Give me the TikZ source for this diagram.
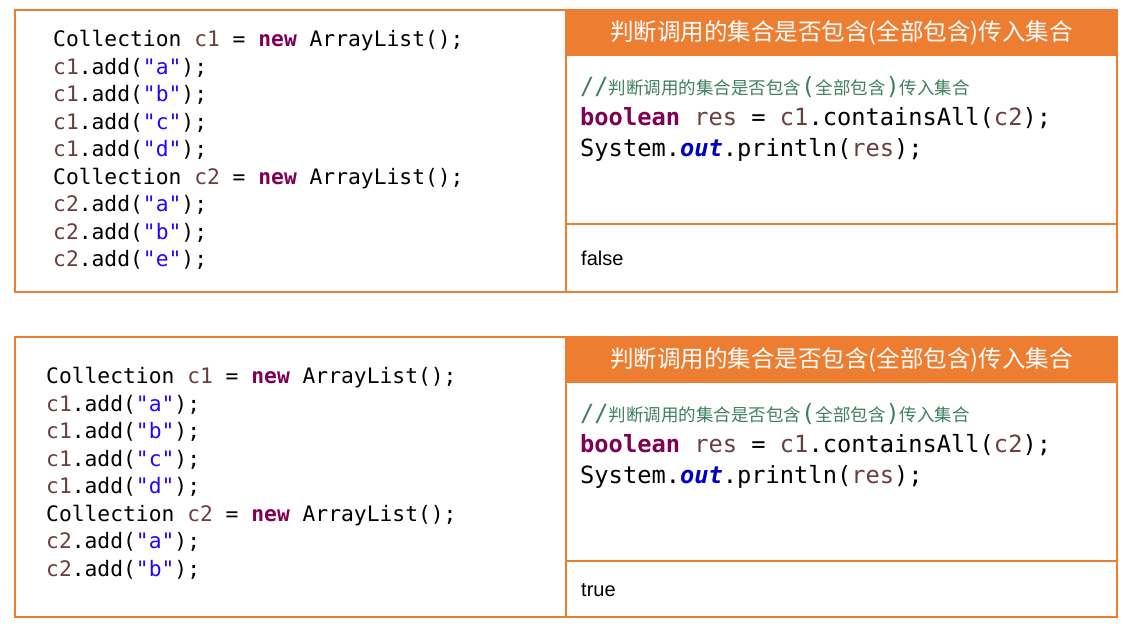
\documentclass[tikz,border=0pt]{standalone}
\usepackage{fontspec}
\setmonofont{DejaVu Sans Mono}
\newfontfamily\cjk{Noto Sans CJK SC}
\setmainfont{Liberation Sans}
\definecolor{org}{HTML}{ED7D31}
\definecolor{kw}{HTML}{7F0055}
\definecolor{vr}{HTML}{6A3E3E}
\definecolor{st}{HTML}{2A00FF}
\definecolor{cm}{HTML}{3F7F5F}
\definecolor{fd}{HTML}{0000C0}
\newcommand{\K}[1]{\textcolor{kw}{\textbf{#1}}}
\newcommand{\V}[1]{\textcolor{vr}{#1}}
\newcommand{\Sx}[1]{\textcolor{st}{#1}}
\newcommand{\C}[1]{{\cjk\fontsize{17.5}{17}\selectfont #1}}
\begin{document}
\begin{tikzpicture}[x=1pt,y=-1pt,
  frame/.style={draw=org,line width=1.5pt},
  hdr/.style={fill=org,draw=org,line width=1.5pt},
  codeL/.style={anchor=north west,align=left,font=\ttfamily\fontsize{21.3}{27.5}\selectfont,inner sep=0},
  codeR/.style={anchor=north west,align=left,font=\ttfamily\fontsize{23.7}{31}\selectfont,inner sep=0}]
\useasboundingbox (0,0) rectangle (1130,627);
\newcommand{\panel}[6]{%
 \fill[hdr] (566,#1) rectangle (1117,#1+45);
 \draw[frame] (15,#1) rectangle (1117,#2) (566,#1) -- (566,#2) (566,#3) -- (1117,#3);
 \node[text=white,font=\cjk\fontsize{23.5}{26}\selectfont] (h#5) at (841.5,#1+22.5) {判断调用的集合是否包含(全部包含)传入集合};
 \node[codeR] (r#5) at (580,#1+66) {\textcolor{cm}{//\C{判断调用的集合是否包含}(\C{全部包含})\C{传入集合}}\\
 \K{boolean} \V{res} = \V{c1}.containsAll(\V{c2});\\
 System.\textcolor{fd}{\textbf{\textit{out}}}.println(\V{res});};
 \node[anchor=west,font=\fontsize{20}{24}\selectfont,inner sep=0] (o#5) at (581,#6) {#4};}
\panel{10}{292}{224}{false}{a}{258}
\panel{337}{617}{561}{true}{b}{590}
\node[codeL] (la) at (53,30) {Collection \V{c1} = \K{new} ArrayList();\\
\V{c1}.add(\Sx{"a"});\\ \V{c1}.add(\Sx{"b"});\\ \V{c1}.add(\Sx{"c"});\\ \V{c1}.add(\Sx{"d"});\\
Collection \V{c2} = \K{new} ArrayList();\\
\V{c2}.add(\Sx{"a"});\\ \V{c2}.add(\Sx{"b"});\\ \V{c2}.add(\Sx{"e"});};
\node[codeL] (lb) at (46,367) {Collection \V{c1} = \K{new} ArrayList();\\
\V{c1}.add(\Sx{"a"});\\ \V{c1}.add(\Sx{"b"});\\ \V{c1}.add(\Sx{"c"});\\ \V{c1}.add(\Sx{"d"});\\
Collection \V{c2} = \K{new} ArrayList();\\
\V{c2}.add(\Sx{"a"});\\ \V{c2}.add(\Sx{"b"});};
\end{tikzpicture}
\end{document}
